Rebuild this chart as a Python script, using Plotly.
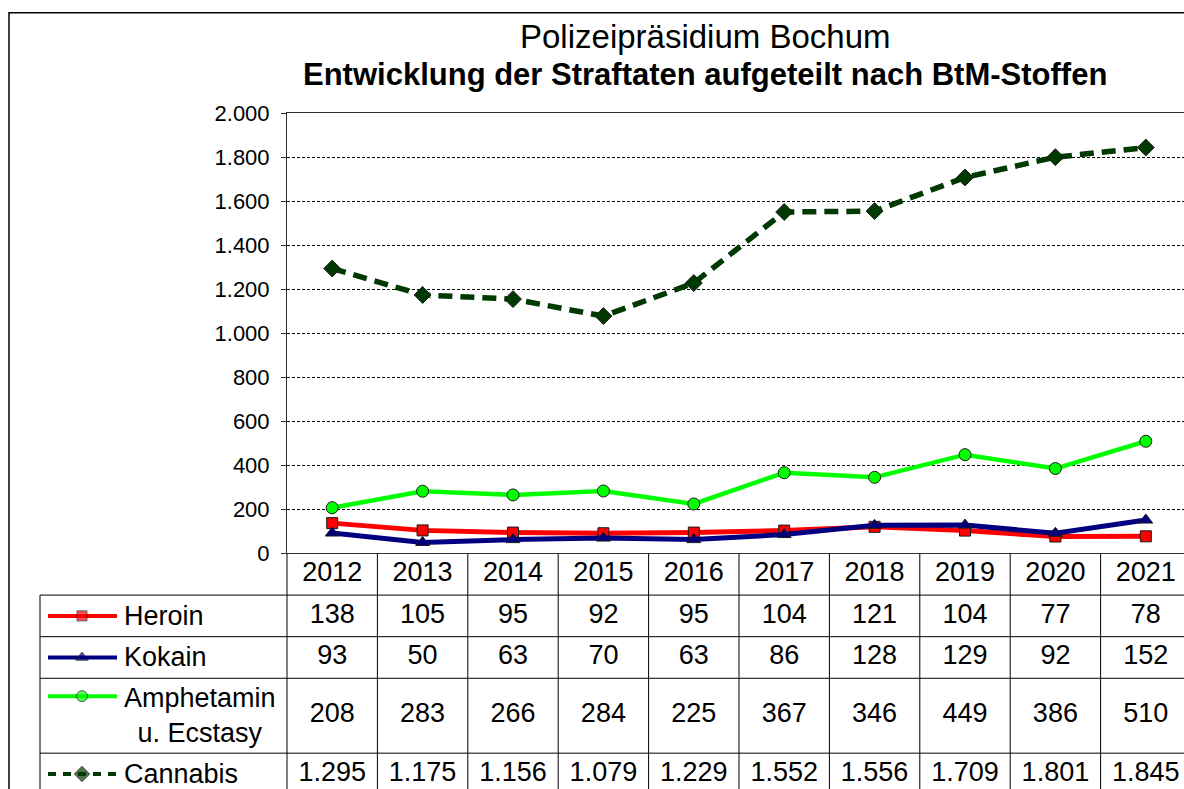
import plotly.graph_objects as go

years = [2012, 2013, 2014, 2015, 2016, 2017, 2018, 2019, 2020, 2021]
heroin = [138, 105, 95, 92, 95, 104, 121, 104, 77, 78]
kokain = [93, 50, 63, 70, 63, 86, 128, 129, 92, 152]
amphetamin = [208, 283, 266, 284, 225, 367, 346, 449, 386, 510]
cannabis = [1295, 1175, 1156, 1079, 1229, 1552, 1556, 1709, 1801, 1845]
series_names = ["Heroin", "Kokain", "Amphetamin<br>u. Ecstasy", "Cannabis"]
y_ticks = [0, 200, 400, 600, 800, 1000, 1200, 1400, 1600, 1800, 2000]

W, H = 1184, 816
FONT = "Liberation Sans, Arial, sans-serif"
ROW = 41.5                      # screen px per table row unit
row_edges = [0, 1, 2, 3, 4.8, 5.8]

# the photo of the page comes out squeezed vertically: screen = A + B * page
A, B = 11.84, 0.967


def px_x(p):
    return p / W


def px_y(s):
    # paper y for a wanted screen pixel row
    return 1 - ((s - A) / B) / H


def de(v):
    return f"{v:,}".replace(",", ".")


styles = [
    dict(color="#FF0000", symbol="square", dash="solid", width=5, size=11),
    dict(color="#000080", symbol="triangle-up", dash="solid", width=5, size=12),
    dict(color="#00FF00", symbol="circle", dash="solid", width=4.5, size=12),
    dict(color="#003A00", symbol="diamond", dash="14px,8px", width=5.5, size=13),
]
all_series = [heroin, kokain, amphetamin, cannabis]

fig = go.Figure()

for vals, st in zip(all_series, styles):
    fig.add_trace(go.Scatter(
        x=years, y=vals, mode="lines+markers",
        line=dict(color=st["color"], width=st["width"], dash=st["dash"]),
        marker=dict(symbol=st["symbol"], size=st["size"], color=st["color"],
                    line=dict(color="#1a1a1a", width=1)),
        showlegend=False, hoverinfo="skip"))

# data table below the plot
fig.add_trace(go.Scatter(
    x=years, y=[0.5] * len(years), mode="text", text=[str(y) for y in years],
    textfont=dict(size=27, color="black", family=FONT),
    xaxis="x", yaxis="y2", cliponaxis=False, showlegend=False, hoverinfo="skip"))

for i, vals in enumerate(all_series):
    centre = (row_edges[i + 1] + row_edges[i + 2]) / 2
    fig.add_trace(go.Scatter(
        x=years, y=[centre] * len(years), mode="text", text=[de(v) for v in vals],
        textfont=dict(size=27, color="black", family=FONT),
        xaxis="x", yaxis="y2", cliponaxis=False, showlegend=False, hoverinfo="skip"))

# legend keys in the row-label column
key_y = [1.5, 2.5, 3.43, 5.3]
for ky, st in zip(key_y, styles):
    fig.add_trace(go.Scatter(
        x=[8, 42, 77], y=[ky] * 3, mode="lines+markers",
        line=dict(color=st["color"], width=4, dash="8px,7px" if st["dash"] != "solid" else "solid"),
        marker=dict(symbol=st["symbol"], size=[0, st["size"] - 1, 0], color=st["color"],
                    line=dict(color="#1a1a1a", width=[0, 1, 0])),
        xaxis="x3", yaxis="y2", cliponaxis=False, showlegend=False, hoverinfo="skip"))

annotations = [
    dict(text="Polizeipräsidium Bochum", x=px_x(705), y=px_y(36), xref="paper", yref="paper",
         xanchor="center", yanchor="middle", showarrow=False,
         font=dict(size=33, color="black", family=FONT)),
    dict(text="<b>Entwicklung der Straftaten aufgeteilt nach BtM-Stoffen</b>",
         x=px_x(705), y=px_y(74), xref="paper", yref="paper",
         xanchor="center", yanchor="middle", showarrow=False,
         font=dict(size=31, color="black", family=FONT)),
]
for i, name in enumerate(series_names):
    centre = (row_edges[i + 1] + row_edges[i + 2]) / 2
    annotations.append(dict(text=name, x=82, y=centre, xref="x3", yref="y2",
                            xanchor="left", yanchor="middle", align="center", showarrow=False,
                            font=dict(size=27, color="black", family=FONT)))

line_kw = dict(color="black", width=1)
shapes = [
    # chart frame
    dict(type="rect", xref="paper", yref="paper", x0=px_x(9), x1=1.2, y0=-0.2,
         y1=1 - 0.8 / H, line=dict(color="black", width=1.5)),
    # table outer left borders
    dict(type="line", xref="paper", yref="y2", x0=px_x(40), x1=px_x(40),
         y0=row_edges[1], y1=7, line=line_kw),
    dict(type="line", xref="paper", yref="y2", x0=px_x(287), x1=px_x(287),
         y0=0, y1=7, line=line_kw),
]
for e in row_edges[1:5]:
    shapes.append(dict(type="line", xref="paper", yref="y2", x0=px_x(40), x1=1,
                       y0=e, y1=e, line=line_kw))
for yv in years:
    shapes.append(dict(type="line", xref="x", yref="y2", x0=yv + 0.5, x1=yv + 0.5,
                       y0=0, y1=7, line=line_kw))

table_top = px_y(552)
fig.update_layout(
    width=W, height=H,
    margin=dict(l=0, r=0, t=0, b=0),
    paper_bgcolor="white", plot_bgcolor="white",
    separators=",.",
    font=dict(family=FONT, color="black"),
    xaxis=dict(domain=[px_x(287), 1], range=[2011.5, 2011.5 + 897 / 90.4],
               showticklabels=False, ticks="", showgrid=False, zeroline=False,
               showline=True, mirror=True, linecolor="#303030", linewidth=1, anchor="y"),
    yaxis=dict(domain=[table_top, px_y(113)], range=[0, 2000], tickvals=y_ticks,
               tickformat=",d", ticks="outside", ticklen=5, tickcolor="#303030",
               showgrid=True, gridcolor="black", gridwidth=1, griddash="3px,2px",
               zeroline=False, showline=True, linecolor="#303030", linewidth=1,
               tickfont=dict(size=22, color="black", family=FONT),
               ticklabelstandoff=7, anchor="x"),
    yaxis2=dict(domain=[0, table_top], range=[table_top * H * B / ROW, 0],
                visible=False, anchor="x"),
    xaxis3=dict(domain=[px_x(40), px_x(287)], range=[0, 247], visible=False, anchor="y2"),
    annotations=annotations,
    shapes=shapes,
)

# pin the graph div to the window's top-left corner, no page margin or scrolling
fig.write_html("out.html", config={"displayModeBar": False}, post_script=(
    "var gd=document.getElementById('{plot_id}');"
    "gd.style.position='fixed';gd.style.top='0px';gd.style.left='0px';"
    "document.body.style.margin='0';"
    "document.documentElement.style.overflow='hidden';document.body.style.overflow='hidden';"))
